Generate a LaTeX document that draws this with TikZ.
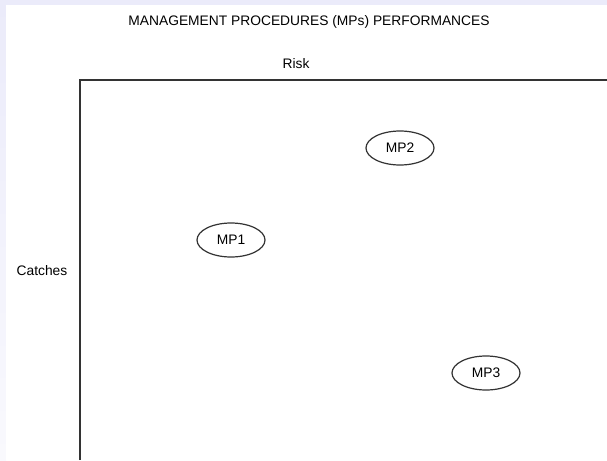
\documentclass[tikz,border=0pt]{standalone}
\usepackage{fontspec}
\setmainfont{Liberation Sans}
\usetikzlibrary{shapes.geometric}
\definecolor{lavender}{HTML}{EBEBFA}
\definecolor{framegray}{HTML}{333333}
\begin{document}
\begin{tikzpicture}[
  x=1pt, y=-1pt,
  mp/.style={ellipse, draw=framegray, line width=1.2pt, minimum width=68pt, minimum height=34pt, inner sep=0pt, font=\fontsize{13.8}{16}\selectfont},
  lbl/.style={font=\fontsize{13.8}{16}\selectfont},
  font=\fontsize{13.8}{16}\selectfont
]
\useasboundingbox (0,0) rectangle (607,460);
% background
\fill[lavender] (0,0) rectangle (607,460);
\shade[top color=lavender, bottom color=lavender!30] (0,0) rectangle (6,460);
\fill[white] (6,5) rectangle (607,460);

\node[lbl] (title) at (309,22) {MANAGEMENT PROCEDURES (MPs) PERFORMANCES};
\node[lbl] (risk) at (296,64) {Risk};
\node[lbl] (catches) at (42,271) {Catches};

% frame
\coordinate (corner) at (80,80);
\coordinate (xend) at (607,80);
\coordinate (yend) at (80,460);
\draw[framegray, line width=1.2pt] (yend) -- (corner) -- (xend);

\node[mp] (mp1) at (231,240) {MP1};
\node[mp] (mp2) at (400,148) {MP2};
\node[mp] (mp3) at (486,373) {MP3};
\end{tikzpicture}
\end{document}
